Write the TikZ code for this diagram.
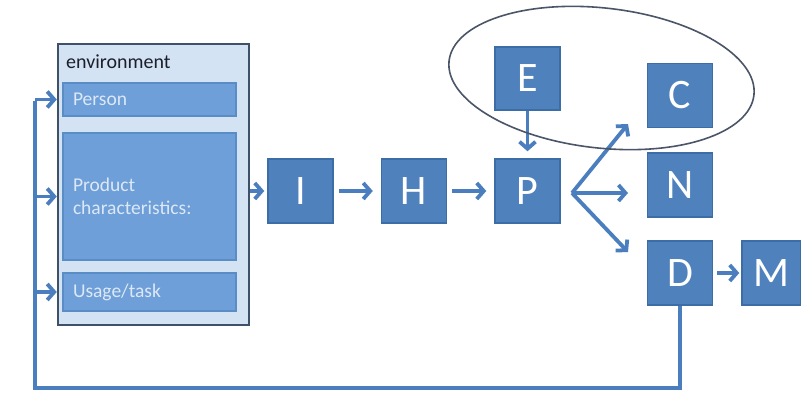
\documentclass[tikz,border=0pt]{standalone}
\usepackage{fontspec}
\setmainfont{Carlito}
\usetikzlibrary{arrows.meta}

\definecolor{blkfill}{HTML}{4F81BD}
\definecolor{blkline}{HTML}{3C6DA6}
\definecolor{partfill}{HTML}{6E9FD8}
\definecolor{partline}{HTML}{5A8CC6}
\definecolor{parttext}{HTML}{DCE8F6}
\definecolor{envfill}{HTML}{D4E3F3}
\definecolor{envline}{HTML}{3E5169}
\definecolor{envtext}{HTML}{1C1F2A}
\definecolor{arrcol}{HTML}{4A7EBE}
\definecolor{ovalline}{HTML}{4A5668}

\begin{document}
\begin{tikzpicture}[x=1pt, y=-1pt,
    blk/.style = {rectangle, draw=blkline, line width=1.5pt, fill=blkfill, text=white, minimum width=65pt, minimum height=64pt, inner sep=0pt, font=\fontsize{42}{42}\selectfont},
    part/.style = {rectangle, draw=partline, line width=1.5pt, fill=partfill, text=parttext, text width=153pt, inner xsep=10pt, inner ysep=0pt, align=left, font=\fontsize{19.5}{23}\selectfont},
    arr/.style = {line width=3.8pt, draw=arrcol, -{Straight Barb[length=7pt, width=16pt]}},
    loopline/.style = {line width=3.8pt, draw=arrcol}]

    \fill[white] (0,0) rectangle (801,395);
    \useasboundingbox (0,0) rectangle (801,395);

    % environment with its three parts
    \node (env) [rectangle, draw=envline, line width=2.5pt, fill=envfill, minimum width=191pt, minimum height=281pt] at (153.5,184.5) {};
    \node (envtitle) [anchor=west, inner sep=0pt, text=envtext, font=\fontsize{20}{20}\selectfont] at (66,62) {environment};
    \node (person) [part, minimum height=33pt] at (149.5,99.5) {Person};
    \node (product) [part, minimum height=127pt] at (149.5,196.5) {Product\\characteristics:};
    \node (usage) [part, minimum height=38pt] at (149.5,292) {Usage/task};

    % the chain of blocks
    \foreach \name/\x in {I/300.5, H/414, P/527.5}
    {
      \node (\name) [blk] at (\x, 191) {\name};
    }
    \node (E) [blk, minimum height=63pt] at (527.5,78.5) {E};
    \node (C) [blk] at (680,95.5) {C};
    \node (N) [blk] at (680,185) {N};
    \node (D) [blk] at (680,273) {D};
    \node (M) [blk, minimum width=59pt] at (771.5,273) {M};

    \draw [arr, shorten >=3pt] (env.east |- I) -- (I.west);
    \foreach \a/\b in {I/H, H/P}
    {
      \draw [arr, shorten <=5pt, shorten >=8pt] (\a) -- (\b);
    }
    \draw [arr, shorten >=7pt] (E) -- (P);

    % fork after P
    \coordinate (fork) at (572,193);
    \coordinate (toC) at (628,124);
    \coordinate (toN) at (628,193);
    \coordinate (toD) at (628,252);
    \foreach \t in {toC, toN, toD}
    {
      \draw [arr] (fork) -- (\t);
    }
    \draw [arr, shorten <=4pt, shorten >=2pt] (D) -- (M);

    % feedback to the environment
    \coordinate (corner) at (35,388);
    \draw [loopline] (D.south) -- (D.south |- corner) -- (corner) -- ([yshift=-2pt]corner |- person);
    \foreach \n in {person, product, usage}
    {
      \draw [arr] (corner |- \n) -- (env.west |- \n);
    }

    \draw [draw=ovalline, line width=1.6pt, rotate around={-6.4:(601.5,78)}] (601.5,78) ellipse [x radius=153.4pt, y radius=70pt];
  \end{tikzpicture}
\end{document}
